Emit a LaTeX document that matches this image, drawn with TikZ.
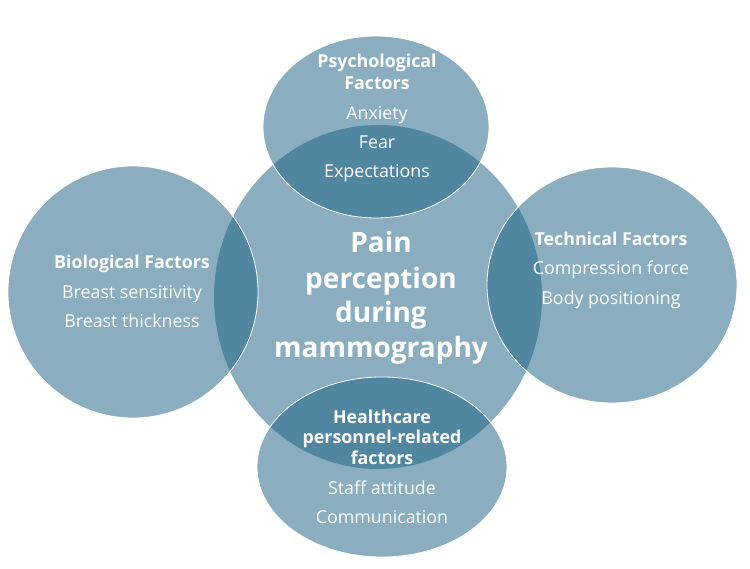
\documentclass[tikz,border=0pt]{standalone}
\usepackage{fontspec}
\setmainfont{Open Sans}
\usetikzlibrary{shapes.geometric}
\definecolor{basecol}{RGB}{25,96,129}
\tikzset{
  bubble/.style={ellipse, inner sep=0pt, fill=basecol, fill opacity=0.51},
  sat/.style={bubble, draw=white, draw opacity=1, line width=0.8pt},
  head/.style={text=white, anchor=base, inner sep=0pt, font=\fontsize{17.8}{20}\selectfont\bfseries},
  item/.style={text=white, anchor=base, inner sep=0pt, font=\fontsize{17.8}{20}\selectfont},
  big/.style={text=white, anchor=base, inner sep=0pt, font=\fontsize{28}{32}\selectfont\bfseries}
}
\begin{document}
\begin{tikzpicture}[x=1pt,y=-1pt]
\useasboundingbox (0,0) rectangle (750,569);
% shapes
\node[bubble, minimum width=328pt, minimum height=344pt] (core) at (378,297) {};
\node[sat, minimum width=226pt, minimum height=182pt] (psy) at (376,127) {};
\node[sat, minimum width=250pt, minimum height=252pt] (bio) at (133,292) {};
\node[sat, minimum width=250pt, minimum height=236pt] (tech) at (612,285) {};
\node[sat, minimum width=250pt, minimum height=180pt] (hc) at (382,467) {};
% center text
\node[big] (c1) at (381,253) {Pain};
\node[big] (c2) at (381,289) {perception};
\node[big] (c3) at (381,323) {during};
\node[big] (c4) at (381,358) {mammography};
% top
\node[head] (p1) at (377,68) {Psychological};
\node[head] (p2) at (377,90) {Factors};
\node[item] (p3) at (377,120) {Anxiety};
\node[item] (p4) at (377,149) {Fear};
\node[item] (p5) at (377,178) {Expectations};
% left
\node[head] (b1) at (132,269) {Biological Factors};
\node[item] (b2) at (132,299) {Breast sensitivity};
\node[item] (b3) at (132,328) {Breast thickness};
% right
\node[head] (t1) at (611,246) {Technical Factors};
\node[item] (t2) at (611,275) {Compression force};
\node[item] (t3) at (611,305) {Body positioning};
% bottom
\node[head] (h1) at (382,423) {Healthcare};
\node[head] (h2) at (382,443) {personnel-related};
\node[head] (h3) at (382,464) {factors};
\node[item] (h4) at (382,494) {Staff attitude};
\node[item] (h5) at (382,523) {Communication};
\end{tikzpicture}
\end{document}
